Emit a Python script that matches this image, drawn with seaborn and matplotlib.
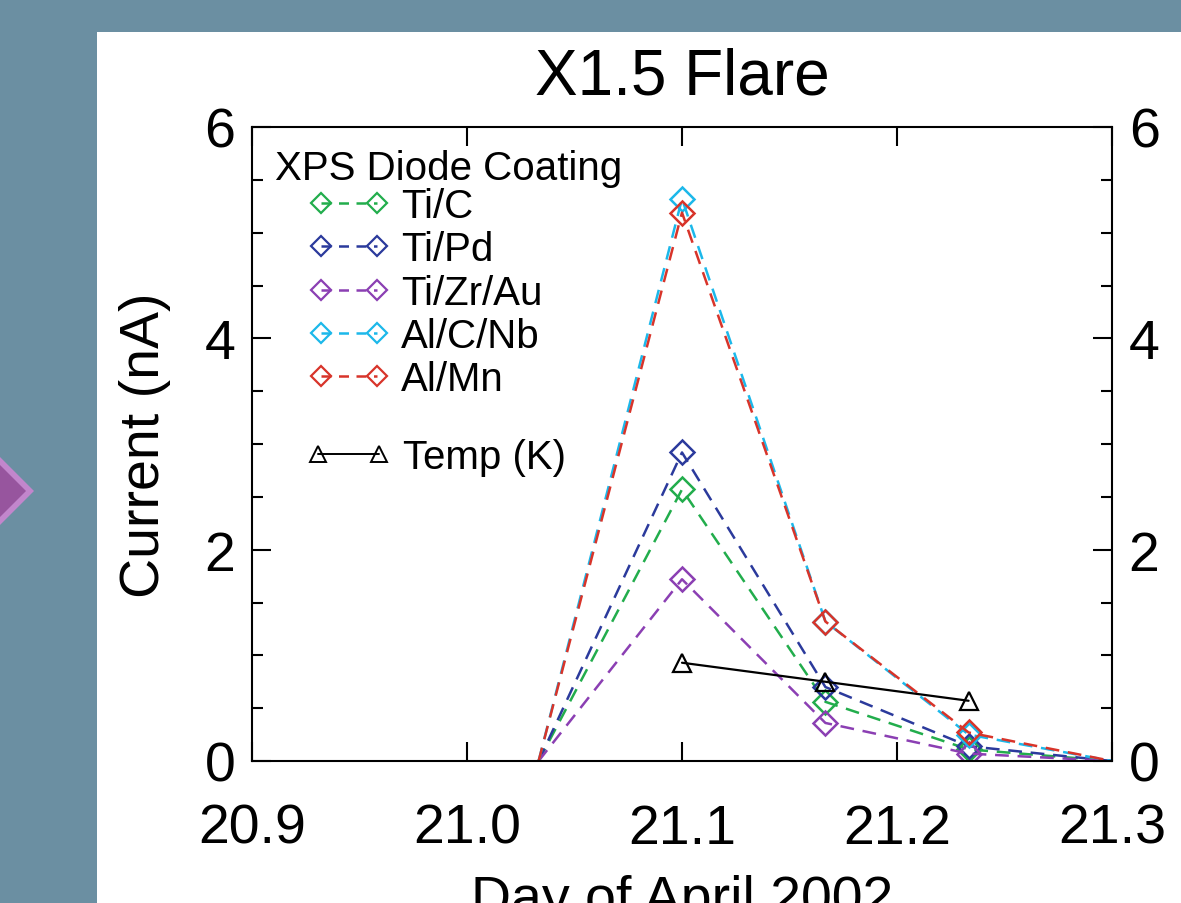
import numpy as np
import pandas as pd
import matplotlib.pyplot as plt
import matplotlib.patches as mpatches
from matplotlib.lines import Line2D
from matplotlib.ticker import MultipleLocator, FormatStrFormatter
import seaborn as sns

# data
days = [21.0333, 21.1, 21.1667, 21.2333, 21.3]
coatings = ["Ti/C", "Ti/Pd", "Ti/Zr/Au", "Al/C/Nb", "Al/Mn"]
ti_c = [0.0, 2.57, 0.56, 0.11, 0.0]
ti_pd = [0.0, 2.92, 0.70, 0.14, 0.0]
ti_zr_au = [0.0, 1.72, 0.36, 0.07, 0.0]
al_c_nb = [0.0, 5.32, 1.32, 0.25, 0.0]
al_mn = [0.0, 5.19, 1.32, 0.27, 0.0]
temp_days = [21.1, 21.1667, 21.2333]
temp = [0.93, 0.75, 0.57]

colors = ["#22ad4c", "#2b3a9c", "#8b3fb3", "#1cb8ea", "#d8342a"]

df = pd.DataFrame({
    "day": days * 5,
    "current": ti_c + ti_pd + ti_zr_au + al_c_nb + al_mn,
    "coating": [c for c in coatings for _ in days],
})
temp_df = pd.DataFrame({"day": temp_days, "temp": temp})

sns.set_style("ticks")
plt.rcParams['font.family'] = ['Liberation Sans', 'DejaVu Sans']
plt.rcParams['text.color'] = 'black'
plt.rcParams['axes.labelcolor'] = 'black'
plt.rcParams['xtick.color'] = 'black'
plt.rcParams['ytick.color'] = 'black'

fig = plt.figure(figsize=(11.81, 9.04), dpi=100)
fig.patch.set_facecolor("#6b8fa2")

W, H = 1181, 904
# white slide panel
fig.patches.append(mpatches.Rectangle((97 / W, 0), 1 - 97 / W, 1 - 33 / H,
                                      transform=fig.transFigure, facecolor="white",
                                      edgecolor="none", zorder=-3))
# purple bullet on the slide, partly off the edge
def diamond(cx, cy, r):
    return [((cx + r) / W, 1 - cy / H), (cx / W, 1 - (cy - r) / H),
            ((cx - r) / W, 1 - cy / H), (cx / W, 1 - (cy + r) / H)]
fig.patches.append(mpatches.Polygon(diamond(-2, 492, 36), closed=True, transform=fig.transFigure,
                                    facecolor="#c286cc", edgecolor="none", zorder=-2))
fig.patches.append(mpatches.Polygon(diamond(-4, 492, 30), closed=True, transform=fig.transFigure,
                                    facecolor="#97559e", edgecolor="none", zorder=-1))

ax = fig.add_axes([252 / W, 1 - 762 / H, 860 / W, 634 / H])
ax.set_zorder(5)
ax.set_facecolor("white")

for name, col in zip(coatings, colors):
    sub = df[df["coating"] == name]
    sns.lineplot(data=sub, x="day", y="current", ax=ax, color=col, linewidth=1.8,
                 marker="D", markersize=12, markerfacecolor="none", markevery=[1, 2, 3],
                 markeredgecolor=col, markeredgewidth=1.8, legend=False)
    ax.lines[-1].set_linestyle((0, (5.5, 3.5)))

sns.lineplot(data=temp_df, x="day", y="temp", ax=ax, color="black", linewidth=1.6,
             marker="^", markersize=13, markerfacecolor="none", markeredgecolor="black",
             markeredgewidth=1.6, legend=False)

ax.set_xlim(20.9, 21.3)
ax.set_ylim(0, 6)
ax.xaxis.set_major_locator(MultipleLocator(0.1))
ax.xaxis.set_major_formatter(FormatStrFormatter('%.1f'))
ax.yaxis.set_major_locator(MultipleLocator(2))
ax.yaxis.set_minor_locator(MultipleLocator(0.5))
ax.yaxis.set_major_formatter(FormatStrFormatter('%d'))
for s in ax.spines.values():
    s.set_visible(True)
    s.set_linewidth(1.5)
    s.set_color("black")
ax.tick_params(which="both", direction="in", top=True, right=True, labelright=True,
               width=1.5, color="black")
ax.tick_params(which="major", length=14)
ax.tick_params(which="minor", length=8)
ax.tick_params(axis="x", labelsize=40, pad=30)
ax.tick_params(axis="y", labelsize=40, pad=12)
ax.grid(False)

ax.set_title("X1.5 Flare", fontsize=46, pad=24)
ax.set_xlabel("Day of April 2002", fontsize=40, labelpad=14)
ax.set_ylabel("Current (nA)", fontsize=40, labelpad=24)

# legend
ax.text(0.027, 0.918, "XPS Diode Coating", transform=ax.transAxes, fontsize=29,
        va="baseline", ha="left")
handles = [Line2D([], [], color=c, linestyle=(0, (4, 3)), linewidth=1.8, marker="D",
                  markersize=10, markerfacecolor="none", markeredgecolor=c,
                  markeredgewidth=1.6) for c in colors]
leg1 = ax.legend(handles, coatings, loc="upper left", bbox_to_anchor=(0.066, 0.905),
                 frameon=False, fontsize=29, numpoints=2, handlelength=2.0,
                 handletextpad=0.3, labelspacing=0.13, borderpad=0, borderaxespad=0)
ax.add_artist(leg1)
temp_handle = Line2D([], [], color="black", linewidth=1.4, marker="^", markersize=11,
                     markerfacecolor="none", markeredgecolor="black", markeredgewidth=1.4)
ax.legend([temp_handle], ["Temp (K)"], loc="upper left", bbox_to_anchor=(0.063, 0.51),
          frameon=False, fontsize=29, numpoints=2, handlelength=2.1,
          handletextpad=0.3, borderpad=0, borderaxespad=0)

fig.savefig("out.png", dpi=100, facecolor=fig.get_facecolor())
